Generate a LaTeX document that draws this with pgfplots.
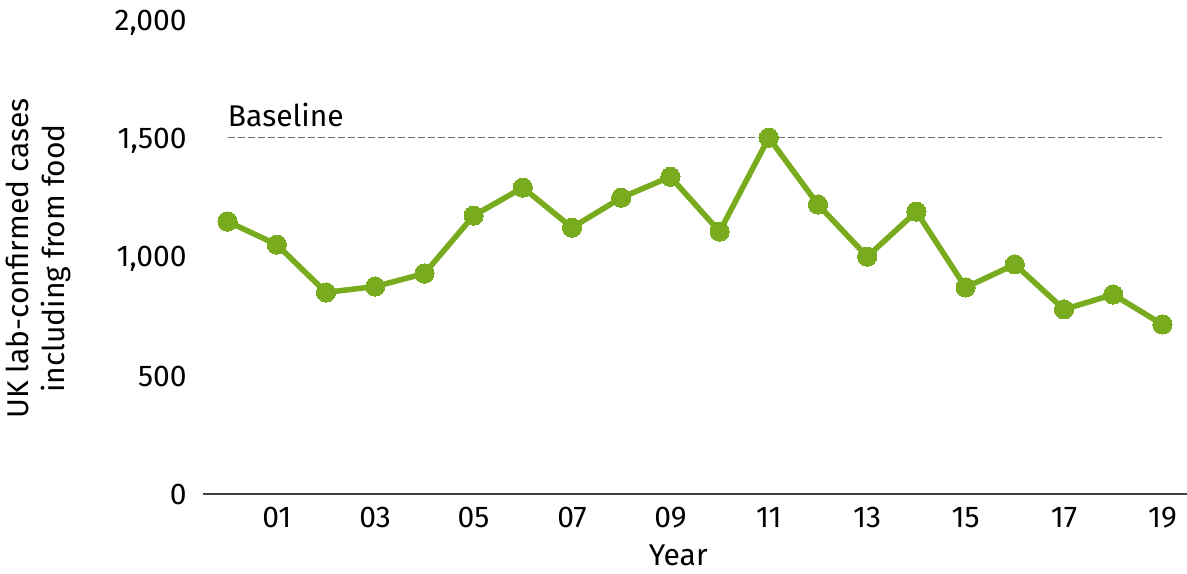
\documentclass[border=0pt]{standalone}
\usepackage{fontspec}
\setmainfont{Fira Sans}
\usepackage{pgfplots}
\pgfplotsset{compat=1.18}
\definecolor{leaf}{RGB}{120,172,30}
\definecolor{base}{RGB}{110,110,110}

\begin{document}
\begin{tikzpicture}[font=\fontsize{15}{18}\selectfont]
\useasboundingbox (-101.5pt,-39.5pt) rectangle (492pt,247pt);
\begin{axis}[
 at={(0,0)},anchor=south west,
 scale only axis,width=492pt,height=235.5pt,
 xmin=-0.5,xmax=19.5,ymin=0,ymax=2000,
 axis x line*=bottom,axis y line*=left,
 x axis line style={draw=black!75,line width=0.6pt,-},
 y axis line style={draw=none},
 xtick={1,3,...,19},
 xticklabels={01,03,05,07,09,11,13,15,17,19},
 ytick={0,500,1000,1500,2000},
 major tick length=0pt,
 /pgf/number format/assume math mode=true,
 /pgf/number format/1000 sep={,},
 x tick label style={anchor=north,inner sep=0pt,yshift=-6.5pt},
 y tick label style={anchor=east,inner sep=0pt,xshift=-8pt},
 xlabel={Year},
 xlabel style={at={(rel axis cs:0.483,0)},anchor=north,inner sep=0pt,yshift=-25pt},
 ylabel={UK lab-confirmed cases\\including from food},
 ylabel style={at={(rel axis cs:0,0.5)},anchor=center,align=center,yshift=82.5pt},
 clip=false,
]
\addplot[base,line width=0.5pt,dash pattern=on 3.5pt off 1.5pt] coordinates {(0,1515) (19,1515)};
\node[anchor=south west,inner sep=0pt] at (axis cs:0,1515) [yshift=5pt] {Baseline};
\addplot[leaf,line width=2.8pt,mark=*,mark size=4.8pt,mark options={fill=leaf,draw=leaf,line width=0pt}] coordinates {
 (0,1157) (1,1059) (2,856) (3,881) (4,936) (5,1182) (6,1301) (7,1131) (8,1258) (9,1347)
 (10,1114) (11,1513) (12,1229) (13,1008) (14,1199) (15,877) (16,975) (17,784) (18,847) (19,720)};
\end{axis}
\end{tikzpicture}
\end{document}
